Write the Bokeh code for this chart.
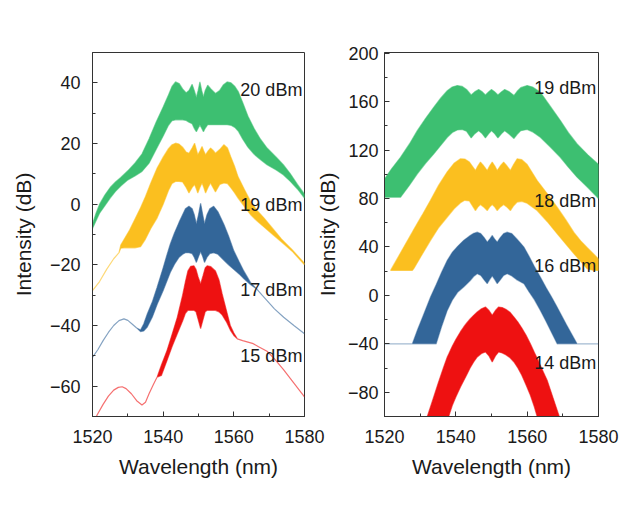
from bokeh.plotting import figure
from bokeh.layouts import row
from bokeh.models import Range1d, SingleIntervalTicker, Label
from bokeh.embed import file_html
from bokeh.resources import INLINE

# ---------------- data (left panel) ----------------
g20_wl = [1520, 1521, 1522, 1523.5, 1525, 1526.5, 1528, 1530, 1532, 1534,
          1536, 1538, 1540, 1541.5, 1542.5, 1543.5, 1544.5, 1545.5, 1546.5, 1547.3,
          1548.2, 1548.8, 1549.4, 1549.9, 1550.4, 1550.9, 1551.4, 1551.9, 1552.6, 1553.5,
          1554.8, 1556, 1557, 1558.1, 1559.2, 1560.3, 1561.3, 1562.5, 1564, 1565.7,
          1567.5, 1569.4, 1572, 1574, 1576, 1578, 1580]
g20_up = [-6.5, -3, 0, 3, 5.5, 7.3, 8.8, 11, 13.5, 16.5,
          21.5, 27, 32, 36, 38.8, 40.3, 39.8, 38, 36.7, 37.5,
          39.5, 37.5, 35.2, 37.5, 40.3, 37.5, 35.3, 37.5, 39.2, 38,
          36.5, 37.5, 39.3, 40.3, 40, 38.8, 37, 33.5, 29, 25,
          21.5, 18.5, 15.5, 13, 10, 6.5, 3.3]
g20_lo = [-8, -5.5, -3, -0.5, 2, 4.2, 6, 8, 9.3, 10.8,
          13.5, 18, 22.5, 26, 27.5, 27.8, 27.8, 27.8, 27.6, 27,
          26.5, 25, 23.9, 25, 26.2, 25, 23.9, 25, 26.2, 26.2,
          26.2, 26.2, 26.2, 26.2, 26, 25.3, 24, 21.5, 18.8, 16.5,
          14.7, 13, 11.3, 9.7, 7.5, 5, 2]

y19_wl = [1520, 1522, 1524, 1526, 1527.5, 1528, 1529, 1530.5, 1532, 1533.6,
          1535, 1536.5, 1538.3, 1540, 1541.5, 1542.5, 1543.5, 1544.5, 1545.5, 1546.5,
          1547.3, 1548.2, 1548.9, 1549.4, 1549.8, 1550.4, 1551, 1551.5, 1552, 1552.7,
          1553.4, 1554.1, 1554.8, 1556, 1557.2, 1558.2, 1559.1, 1560.2, 1561.2, 1563,
          1564.7, 1566.5, 1568.5, 1571, 1573.5, 1576.5, 1580]
y19_up = [-28.5, -25.5, -21.5, -18, -16, -13.5, -11.5, -8.5, -5, -1.2,
          2.5, 7, 11.9, 15.5, 18.3, 19.6, 20.1, 19.8, 18.8, 17.2,
          16.8, 18.5, 20.1, 18, 16.3, 17.5, 19, 17.5, 16.3, 17.5,
          18.5, 17.8, 16.8, 18, 19.6, 18.5, 15.7, 12.5, 9, 4.8,
          1, -2, -4.5, -8, -11.5, -15, -19.5]
y19_lo = [-28.5, -25.5, -21.5, -18, -16, -14.5, -14.4, -14.4, -14.4, -14,
          -11.5, -8, -4.5, 0, 4.5, 6.8, 7.5, 7.5, 7.3, 5.5,
          3.7, 5.5, 6.5, 5, 3.7, 5.5, 7, 5.5, 3.7, 5.5,
          7, 5.5, 4, 6.5, 7, 6.8, 5.5, 3.8, 2, -0.8,
          -3.4, -5.5, -7.5, -10, -12.5, -15.5, -20]

b17_wl = [1520, 1521.5, 1523, 1524.5, 1526, 1527.5, 1528.9, 1530, 1531.2, 1532.5,
          1533.6, 1534.5, 1535.5, 1537, 1538.3, 1540, 1541, 1542, 1543.2, 1544.5,
          1545.5, 1546.3, 1547.3, 1548.2, 1548.8, 1549.4, 1550, 1550.6, 1551.2, 1551.7,
          1552.4, 1553.2, 1554.3, 1555.5, 1557.2, 1558.5, 1560, 1561.5, 1562.8, 1564.7,
          1566.5, 1568, 1569.4, 1571.5, 1574.1, 1577, 1580]
b17_up = [-50.5, -48, -45, -42.3, -40, -38.4, -37.8, -38.3, -39.5, -40.8,
          -41.5, -39.5, -36.2, -32, -27.4, -21, -17, -13.2, -9.5, -6,
          -3.5, -1.5, -0.7, -1.5, -3.5, -6.5, -3.5, 0.3, -3.5, -6.5,
          -3.5, -1.5, -0.7, -2.5, -6.7, -10.5, -15.4, -19, -22, -25.8,
          -28, -30, -31.8, -34.5, -37.3, -40, -42.7]
b17_lo = [-50.5, -48, -45, -42.3, -40, -38.4, -37.8, -38.3, -39.5, -40.8,
          -42, -41.8, -40.5, -37, -33, -28.5, -25.5, -22.5, -19.8, -17.5,
          -16.5, -16, -16, -16.3, -17.5, -19.2, -17.3, -15.6, -17.3, -19.2,
          -17.5, -16.3, -16, -16.5, -18.5, -20, -21.5, -23, -24.5, -26.5,
          -28, -30, -31.8, -34.5, -37.3, -40, -42.7]

r15_wl = [1520, 1521.3, 1523, 1524.5, 1526, 1527.3, 1528.4, 1529.5, 1531, 1532.5,
          1534, 1535, 1536, 1537.2, 1538.3, 1539.5, 1541.1, 1542.5, 1544, 1545.5,
          1546.3, 1547, 1547.8, 1548.7, 1549.3, 1549.9, 1550.6, 1551.3, 1551.9, 1552.5,
          1553.5, 1554.8, 1555.8, 1556.7, 1558, 1559, 1560, 1561, 1562.5, 1564,
          1565.5, 1567, 1569.4, 1571.5, 1574, 1577, 1580]
r15_up = [-73, -69.5, -66, -63.3, -61.3, -60.4, -60.2, -60.8, -62.5, -64.8,
          -66.2, -65.3, -62.5, -59.5, -57, -53, -48.2, -43, -37.3, -30,
          -25.5, -22, -20.5, -20.3, -21.5, -24, -26.3, -23.5, -21, -20.3,
          -20.6, -22, -25, -29.6, -35.5, -40, -42.5, -44.4, -45, -45.5,
          -46, -47, -48.5, -51, -54.5, -59, -63.5]
r15_lo = [-73, -69.5, -66, -63.3, -61.3, -60.4, -60.2, -60.8, -62.5, -64.8,
          -66.2, -65.3, -62.5, -59.5, -57, -56.5, -51.5, -47, -42.7, -38.5,
          -36, -35, -35, -35, -35.5, -38, -41, -38, -35.5, -35,
          -35, -35, -35.5, -36.5, -39, -41.5, -43.3, -44.4, -45, -45.5,
          -46, -47, -48.5, -51, -54.5, -59, -63.5]

# ---------------- data (right panel) ----------------
g19_wl = [1520, 1522, 1524.5, 1527, 1529.2, 1531.5, 1533.8, 1535.8, 1537.6, 1539,
          1540.4, 1541.8, 1543, 1544.3, 1545.3, 1546.4, 1547.4, 1548.3, 1549.2, 1550,
          1550.9, 1551.8, 1552.8, 1553.7, 1555, 1556.3, 1557.2, 1558.2, 1560, 1561.5,
          1563.7, 1566.5, 1569.3, 1571.5, 1574, 1577, 1580]
g19_up = [96, 104.5, 114, 125, 136, 146, 155.3, 163, 169, 172,
          173.2, 172.5, 170, 165.5, 168, 170, 168, 165.5, 168, 170,
          168, 165.5, 168, 170, 168, 165, 168.5, 171.5, 173.2, 172,
          167.7, 156, 144.3, 134.5, 125, 116, 108]
g19_lo = [81, 81, 81, 91, 100.3, 109, 116.8, 124, 130.5, 134.5,
          136.5, 137, 135.5, 130, 133.5, 136, 133.5, 130, 133.5, 136,
          133.5, 130, 133.5, 136, 133, 129.5, 133, 136, 137, 135,
          130.5, 122.5, 114, 106, 97.6, 89, 80]

y18_wl = [1521.7, 1523.5, 1525.5, 1527.8, 1528.2, 1530.5, 1532.9, 1535.2, 1537.6, 1539.5,
          1541.3, 1542.5, 1543.8, 1545.5, 1546.2, 1546.9, 1547.8, 1548.8, 1549.5, 1550.2,
          1550.9, 1551.6, 1552.5, 1553.4, 1554.3, 1555.3, 1556.2, 1557.2, 1558.5, 1560,
          1562.8, 1565.6, 1568.4, 1570.8, 1573.1, 1575, 1576.8, 1578.7, 1580]
y18_up = [20.6, 29.9, 40.3, 52.2, 54.3, 66, 78.5, 91, 102, 109,
          112.7, 112.5, 110, 103, 107, 110, 107, 103, 107, 110,
          107, 103, 107, 110, 107, 103, 108, 112.7, 112, 108,
          94.8, 84, 72.8, 62.5, 52, 45, 39.5, 34, 30]
y18_lo = [20.6, 20.6, 20.6, 20.6, 22, 33.5, 45.4, 56, 64.6, 71.5,
          76.5, 78.5, 78, 70, 73, 75, 73, 70, 73, 75,
          73, 70, 73, 75, 73, 70, 74, 77, 77.6, 76,
          70, 61, 50.9, 42.5, 34.4, 28, 22, 20.6, 20.6]

b16_wl = [1520, 1527.8, 1529.3, 1530.8, 1532.9, 1534.5, 1536, 1537.6, 1539, 1540.5,
          1542.2, 1544, 1545, 1546, 1547, 1548, 1548.8, 1549.5, 1550.2, 1550.9,
          1551.6, 1552.4, 1553.4, 1554.4, 1555.7, 1557, 1558.2, 1559.1, 1560.5, 1562,
          1563.7, 1565.3, 1566.9, 1568.4, 1571, 1574, 1580]
b16_up = [-40, -40, -28, -17, -1.4, 9, 19, 28.9, 35.5, 40.5,
          45.4, 49.5, 51.3, 52.2, 51, 47.5, 44, 46.5, 49.5, 46.5,
          44, 47.5, 51, 52.2, 51, 47, 43, 39.9, 32.5, 24,
          15.1, 6.5, -1.5, -9.6, -24, -40, -40]
b16_lo = [-40, -40, -40, -40, -40, -40, -26, -12.4, -4, 2.5,
          6.9, 12, 15.5, 17.9, 16.5, 12.5, 9.6, 13, 16, 13,
          9.6, 12.5, 16.5, 17.9, 16, 13, 11, 9.6, 3, -3.5,
          -12.4, -21.5, -31, -40, -40, -40, -40]

r14_wl = [1532, 1533.5, 1535, 1536.5, 1537.6, 1538, 1539, 1540, 1541.3, 1542.2,
          1543, 1544, 1545, 1546, 1547.2, 1548.3, 1549.3, 1550.2, 1551.1, 1552,
          1553, 1554, 1555.2, 1556.3, 1557.4, 1558.5, 1559.7, 1560.9, 1562, 1562.8,
          1563.3, 1564.5, 1565.6, 1567.3, 1569]
r14_up = [-100, -86.5, -73, -60, -50.9, -48.5, -42, -36.5, -30, -26.1,
          -23, -19.5, -16.5, -13.7, -11, -9.6, -12.5, -16.5, -12.5, -9.6,
          -10, -11.5, -14, -17.9, -22, -27, -33, -39.9, -47, -52,
          -55.3, -63, -70.1, -85, -100]
r14_lo = [-100, -100, -100, -100, -100, -100, -91, -84, -75.6, -70.5,
          -66, -60, -55, -50.9, -48, -46.7, -50, -55, -50, -46.7,
          -47.5, -49, -51.5, -55, -60, -66, -74, -82.5, -92, -100,
          -100, -100, -100, -100, -100]

left_labels = ["20 dBm", "19 dBm", "17 dBm", "15 dBm"]
right_labels = ["19 dBm", "18 dBm", "16 dBm", "14 dBm"]

GREEN = "#3dbf71"
YELLOW = "#fbbf1f"
BLUE = "#336699"
RED = "#ee1111"
FONT = "Liberation Sans"
TXT = "#1a1a1a"
AX = "#333333"


def style(p, y_interval, label_standoff, axis_label_standoff):
    p.xgrid.visible = False
    p.ygrid.visible = False
    p.outline_line_color = AX
    p.outline_line_width = 1
    p.xaxis.ticker = SingleIntervalTicker(interval=20, num_minor_ticks=2)
    p.yaxis.ticker = SingleIntervalTicker(interval=y_interval, num_minor_ticks=2)
    for ax in (p.xaxis[0], p.yaxis[0]):
        ax.axis_line_color = AX
        ax.major_tick_line_color = AX
        ax.minor_tick_line_color = AX
        ax.major_tick_in = 5
        ax.major_tick_out = 0
        ax.minor_tick_in = 3
        ax.minor_tick_out = 0
        ax.major_label_text_font = FONT
        ax.major_label_text_font_size = "18px"
        ax.major_label_text_color = TXT
        ax.axis_label_text_font = FONT
        ax.axis_label_text_font_size = "21px"
        ax.axis_label_text_font_style = "normal"
        ax.axis_label_text_color = TXT
    p.xaxis.axis_label = "Wavelength (nm)"
    p.yaxis.axis_label = "Intensity (dB)"
    p.xaxis.major_label_standoff = 13
    p.xaxis.axis_label_standoff = 9
    p.yaxis.major_label_standoff = label_standoff
    p.yaxis.axis_label_standoff = axis_label_standoff


def band(p, wl, up, lo, color, lw=1.2, la=0.6):
    xs = list(wl) + list(wl)[::-1]
    ys = list(up) + list(lo)[::-1]
    p.patch(xs, ys, fill_color=color, line_color=color, line_width=lw, line_alpha=la)


def add_labels(p, texts, ys, x):
    for t, y in zip(texts, ys):
        p.add_layout(Label(x=x, y=y, text=t, text_align="right", text_baseline="middle",
                           text_font=FONT, text_font_size="18px", text_color=TXT))


p1 = figure(width=330, height=520, output_backend="svg", toolbar_location=None,
            x_range=Range1d(1520, 1580), y_range=Range1d(-70, 50),
            min_border_left=92, min_border_right=26, min_border_top=51, min_border_bottom=104)
style(p1, 20, 12, 12)
band(p1, g20_wl, g20_up, g20_lo, GREEN)
band(p1, y19_wl, y19_up, y19_lo, YELLOW)
band(p1, b17_wl, b17_up, b17_lo, BLUE)
band(p1, r15_wl, r15_up, r15_lo, RED)
add_labels(p1, left_labels, [37.7, -0.3, -28.2, -50.2], 1579.4)

p2 = figure(width=310, height=520, output_backend="svg", toolbar_location=None,
            x_range=Range1d(1520, 1580), y_range=Range1d(-100, 200.5),
            min_border_left=74, min_border_right=22, min_border_top=52, min_border_bottom=104,
            border_fill_alpha=0)
p2.margin = (0, 0, 0, -20)
style(p2, 40, 6, 6)
band(p2, g19_wl, g19_up, g19_lo, GREEN)
band(p2, y18_wl, y18_up, y18_lo, YELLOW)
band(p2, b16_wl, b16_up, b16_lo, BLUE, lw=1.2, la=0.45)
band(p2, r14_wl, r14_up, r14_lo, RED)
add_labels(p2, right_labels, [171.1, 77.9, 24.3, -55.7], 1579.4)

layout = row(p1, p2)
open("out.html", "w").write(file_html(layout, INLINE))
